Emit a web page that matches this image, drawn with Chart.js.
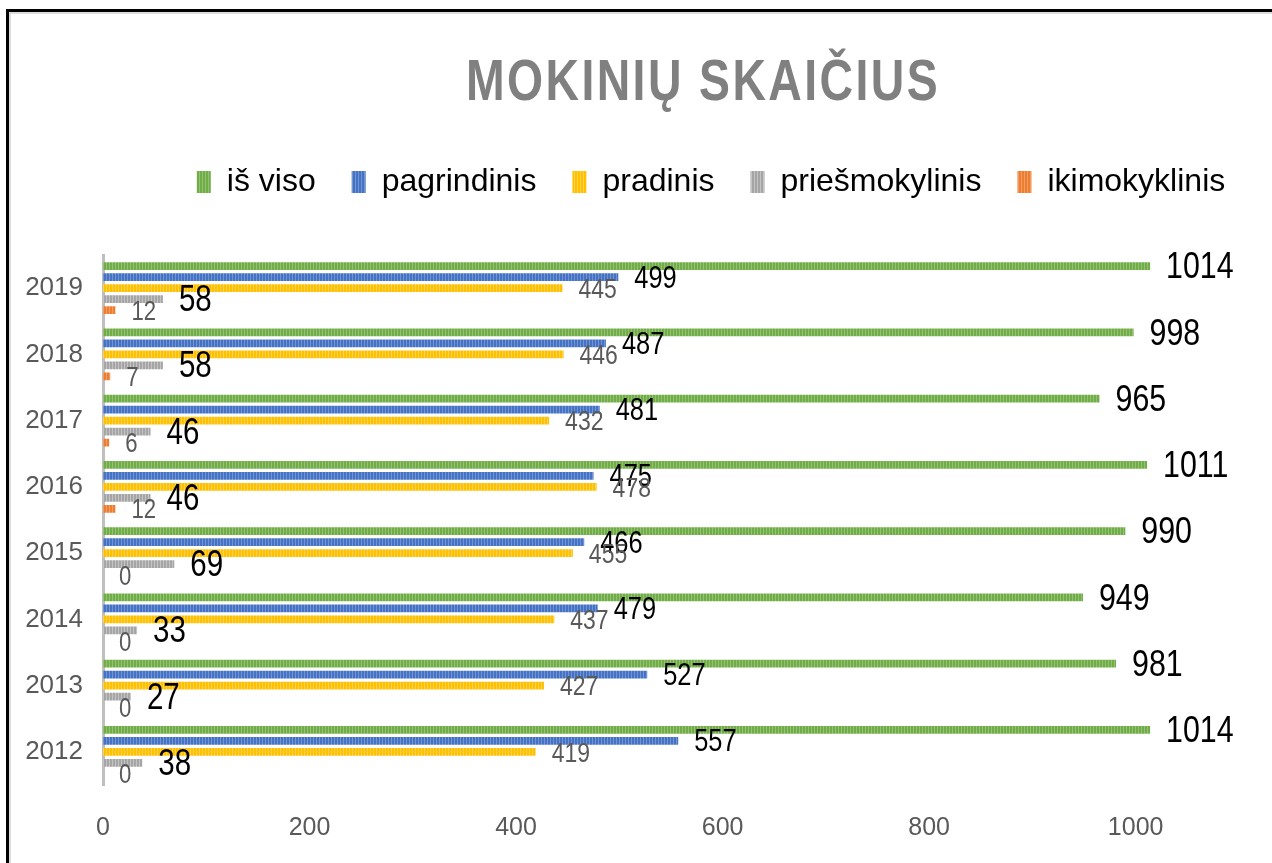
<!DOCTYPE html>
<html>
<head>
<meta charset="utf-8">
<script src="https://cdn.jsdelivr.net/npm/chart.js@4"></script>
<style>
  html, body { margin: 0; padding: 0; background: #fff; overflow: hidden; }
  #frame {
    position: absolute; left: 6px; top: 9px;
    width: 1500px; height: 900px;
    border-left: 3px solid #000; border-top: 3px solid #000;
    box-shadow: inset 2px 2px 0 0 #dcdcdc;
  }
  #chart { position: absolute; left: -1px; top: -3px; }
</style>
</head>
<body>
<div id="frame"><canvas id="chart" width="1390" height="836"></canvas></div>
<script>
// Duomenys
const years = ['2019', '2018', '2017', '2016', '2015', '2014', '2013', '2012'];
const isViso = [1014, 998, 965, 1011, 990, 949, 981, 1014];
const pagrindinis = [499, 487, 481, 475, 466, 479, 527, 557];
const pradinis = [445, 446, 432, 478, 455, 437, 427, 419];
const priesmokyklinis = [58, 58, 46, 46, 69, 33, 27, 38];
const ikimokyklinis = [12, 7, 6, 12, 0, 0, 0, 0];
const seriesNames = ['iš viso', 'pagrindinis', 'pradinis', 'priešmokylinis', 'ikimokyklinis'];
const chartTitle = 'MOKINIŲ SKAIČIUS';

const sans = "'Liberation Sans', Arial, sans-serif";

// Dryžuotas užpildas stulpeliams
function stripes(base, light) {
    const c = document.createElement('canvas');
    c.width = 3;
    c.height = 1;
    const g = c.getContext('2d');
    g.fillStyle = base;
    g.fillRect(0, 0, 3, 1);
    g.fillStyle = light;
    g.fillRect(2, 0, 1, 1);
    return g.createPattern(c, 'repeat');
}

const fills = [
    stripes('#70ad47', '#93c274'),
    stripes('#4472c4', '#7394d2'),
    stripes('#ffc000', '#ffd24d'),
    stripes('#a5a5a5', '#c4c4c4'),
    stripes('#ed7d31', '#f29d63')
];

const labelStyle = [
    { color: '#000000', size: 37 },
    { color: '#000000', size: 31 },
    { color: '#595959', size: 28 },
    { color: '#000000', size: 36 },
    { color: '#595959', size: 27 }
];

// siauresnis tekstas (kaip Calibri)
function narrowText(ctx, text, x, y, k) {
    ctx.save();
    ctx.translate(x, y);
    ctx.scale(k, 1);
    ctx.fillText(text, 0, 0);
    ctx.restore();
}

// Reikšmių užrašai prie stulpelių galų + pavadinimas
const barLabels = {
    id: 'barLabels',
    afterLayout(chart) {
        // legenda kiek dešiniau, kaip originale
        chart.legend.left += 35;
        chart.legend.right += 35;
    },
    afterDatasetsDraw(chart) {
        const ctx = chart.ctx;
        chart.data.datasets.forEach((ds, i) => {
            const meta = chart.getDatasetMeta(i);
            ctx.save();
            ctx.font = labelStyle[i].size + 'px ' + sans;
            ctx.fillStyle = labelStyle[i].color;
            ctx.textAlign = 'left';
            ctx.textBaseline = 'middle';
            meta.data.forEach((bar, j) => {
                narrowText(ctx, String(ds.data[j]), bar.x + 16, bar.y + 2, 0.82);
            });
            ctx.restore();
        });
    },
    afterDraw(chart) {
        const ctx = chart.ctx;
        ctx.save();
        ctx.font = 'bold 58px ' + sans;
        ctx.fillStyle = '#808080';
        ctx.textAlign = 'center';
        ctx.textBaseline = 'alphabetic';
        ctx.letterSpacing = '3px';
        narrowText(ctx, chartTitle, chart.width / 2, 91, 0.8);
        ctx.restore();
    }
};

// Tarpas tarp legendos ir grafiko
const legendGap = {
    id: 'legendGap',
    beforeInit(chart) {
        const fit = chart.legend.fit;
        chart.legend.fit = function () {
            fit.call(this);
            this.height += 47;
        };
    }
};

const values = [isViso, pagrindinis, pradinis, priesmokyklinis, ikimokyklinis];

new Chart(document.getElementById('chart'), {
    type: 'bar',
    data: {
        labels: years,
        datasets: values.map((v, i) => ({
            label: seriesNames[i],
            data: v,
            backgroundColor: fills[i],
            borderWidth: 0,
            categoryPercentage: 0.83,
            barPercentage: 0.72
        }))
    },
    options: {
        indexAxis: 'y',
        responsive: false,
        animation: false,
        layout: { padding: { left: 0, right: 54, top: 121, bottom: 0 } },
        plugins: {
            title: { display: false },
            legend: {
                position: 'top',
                labels: {
                    color: '#000000',
                    font: { family: sans, size: 32 },
                    boxWidth: 14,
                    boxHeight: 22,
                    padding: 36
                }
            },
            tooltip: { enabled: false }
        },
        scales: {
            x: {
                min: 0,
                max: 1200,
                grid: { display: false, drawTicks: false },
                border: { display: false },
                afterFit: (scale) => { scale.height = 60; },
                ticks: {
                    stepSize: 200,
                    padding: 28,
                    color: '#595959',
                    font: { family: sans, size: 25 },
                    callback: (v) => String(v)
                }
            },
            y: {
                grid: { display: false, drawTicks: false },
                border: { display: true, color: '#bfbfbf', width: 3 },
                afterFit: (scale) => { scale.width = 95; },
                ticks: {
                    padding: 20,
                    color: '#595959',
                    font: { family: sans, size: 26 }
                }
            }
        }
    },
    plugins: [barLabels, legendGap]
});
</script>
</body>
</html>
